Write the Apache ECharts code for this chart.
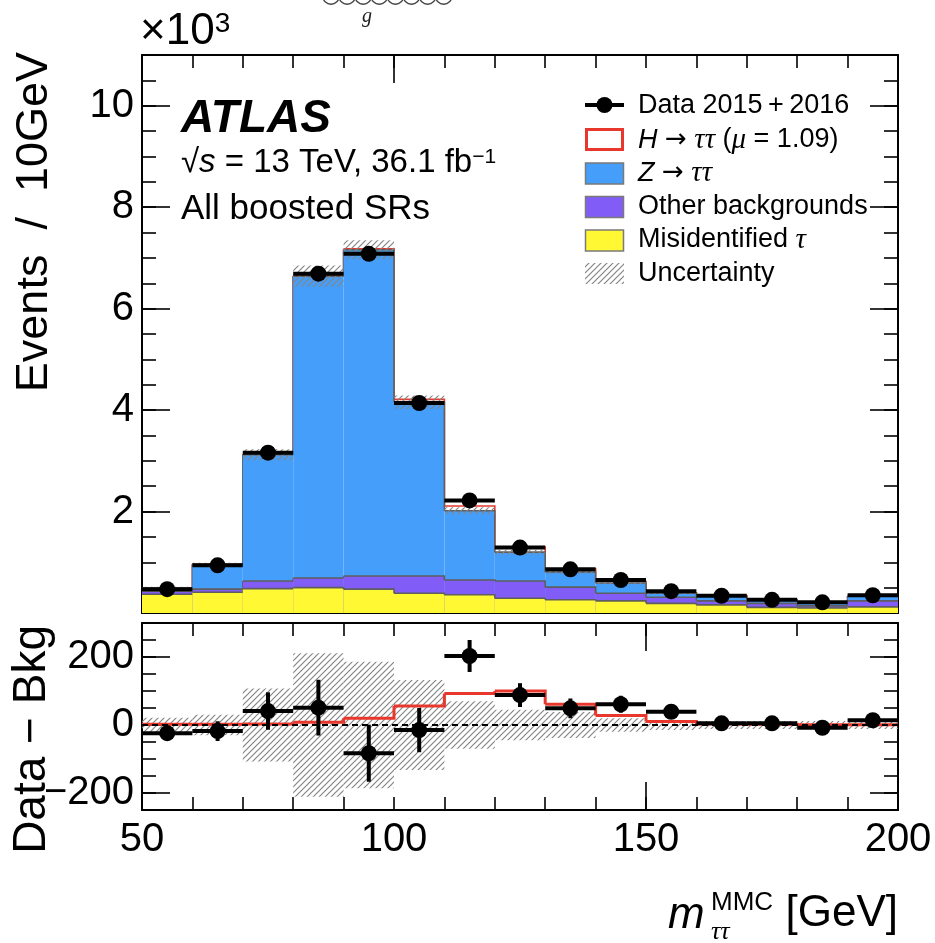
<!DOCTYPE html>
<html>
<head>
<meta charset="utf-8">
<script src="https://cdn.jsdelivr.net/npm/echarts@6/dist/echarts.min.js"></script>
<style>
html, body { margin: 0; padding: 0; background: #fff; }
#chart { width: 935px; height: 943px; }
</style>
</head>
<body>
<div id="chart"></div>
<script>
// m_tautau (MMC) distribution, all boosted signal regions, 10 GeV bins
const binLow = [50, 60, 70, 80, 90, 100, 110, 120, 130, 140, 150, 160, 170, 180, 190];
const BIN_W = 10;

// stacked predictions (events / bin)
const fakeTau  = [370, 410, 480, 500, 470, 390, 360, 290, 260, 240, 190, 160, 110, 100, 120];
const otherBkg = [60, 60, 150, 190, 260, 340, 290, 340, 250, 150, 120, 80, 80, 40, 120];
const zTauTau  = [65, 490, 2490, 5950, 6430, 3425, 1365, 570, 300, 200, 80, 95, 65, 80, 95];
const higgs    = [2, 2, 3, 8, 20, 56, 93, 100, 61, 28, 10, 3, 2, 1, 1];
const bkgUnc   = [21, 30, 107, 211, 186, 132, 70, 45, 38, 20, 15, 12, 12, 12, 12];

// observed data
const dataCounts   = [470, 940, 3160, 6690, 7080, 4140, 2220, 1290, 860, 650, 430, 340, 260, 210, 350];
const dataErr      = [22, 29, 55, 82, 84, 65, 47, 35, 29, 25, 21, 18, 16, 15, 19];
const dataMinusBkg = [-24, -18, 41, 51, -83, -15, 203, 88, 49, 61, 39, 5, 5, -8, 14];

// axis ticks
const xLabelTicks   = [50, 100, 150, 200];
const topMajorX     = [100];
const bottomMajorX  = [150];
const ratioMajorY   = [-200, 0, 200];

const FONT  = '"Liberation Sans", Arial, Helvetica, sans-serif';
const SERIF = '"Liberation Serif", "DejaVu Serif", serif';
const ARROW = '"DejaVu Sans", sans-serif';
const BLUE = '#459ffa', PURPLE = '#825cf7', YELLOW = '#fff833', RED = '#e8382d', OUTLINE = '#5e5e5e';

function hatchCanvas() {
  const s = 6;
  const c = document.createElement('canvas');
  c.width = s; c.height = s;
  const g = c.getContext('2d');
  g.strokeStyle = '#858585';
  g.lineWidth = 1.2;
  g.beginPath();
  g.moveTo(-1, s + 1); g.lineTo(s + 1, -1);
  g.moveTo(-1, 1); g.lineTo(1, -1);
  g.moveTo(s - 1, s + 1); g.lineTo(s + 1, s - 1);
  g.stroke();
  return c;
}
const HATCH = { image: hatchCanvas(), repeat: 'repeat' };

// cumulative layers, drawn from the top of the stack downwards
const cum1 = fakeTau.slice();
const cum2 = cum1.map((v, i) => v + otherBkg[i]);
const cum3 = cum2.map((v, i) => v + zTauTau[i]);
const cum4 = cum3.map((v, i) => v + higgs[i]);

function layerData(cum) {
  return binLow.map((x, i) => [x, x + BIN_W, 0, cum[i], i + 1 < cum.length ? cum[i + 1] : cum[i]]);
}

function layerRender(fill, stroke, lw) {
  return function (params, api) {
    const x0 = api.value(0), x1 = api.value(1), lo = api.value(2), hi = api.value(3), nx = api.value(4);
    const a = api.coord([x0, lo]), b = api.coord([x1, hi]), n = api.coord([x1, nx]);
    return {
      type: 'group',
      children: [
        { type: 'rect', shape: { x: a[0], y: b[1], width: b[0] - a[0], height: a[1] - b[1] }, style: { fill: fill } },
        { type: 'polyline', shape: { points: [[a[0], b[1]], [b[0], b[1]], [b[0], n[1]]] },
          style: { stroke: stroke, lineWidth: lw, fill: null } }
      ]
    };
  };
}

function bandRender(params, api) {
  const x0 = api.value(0), x1 = api.value(1), lo = api.value(2), hi = api.value(3);
  const a = api.coord([x0, lo]), b = api.coord([x1, hi]);
  return { type: 'rect', shape: { x: a[0], y: b[1], width: b[0] - a[0], height: a[1] - b[1] },
           style: { fill: HATCH } };
}

function stepRender(color, lw) {
  return function (params, api) {
    const x0 = api.value(0), x1 = api.value(1), y = api.value(2), ny = api.value(3);
    const a = api.coord([x0, y]), b = api.coord([x1, y]), n = api.coord([x1, ny]);
    return { type: 'polyline', shape: { points: [a, b, n] }, style: { stroke: color, lineWidth: lw, fill: null } };
  };
}

function pointRender(params, api) {
  const xlo = api.value(0), xhi = api.value(1), y = api.value(2), e = api.value(3);
  const xc = (xlo + xhi) / 2;
  const l = api.coord([xlo, y]), r = api.coord([xhi, y]);
  const t = api.coord([xc, y + e]), bt = api.coord([xc, y - e]), c = api.coord([xc, y]);
  return {
    type: 'group',
    children: [
      { type: 'line', shape: { x1: l[0], y1: l[1], x2: r[0], y2: r[1] }, style: { stroke: '#000', lineWidth: 4 } },
      { type: 'line', shape: { x1: t[0], y1: t[1], x2: bt[0], y2: bt[1] }, style: { stroke: '#000', lineWidth: 4 } },
      { type: 'circle', shape: { cx: c[0], cy: c[1], r: 8 }, style: { fill: '#000' } }
    ]
  };
}

const AX = { color: '#000', width: 2 };
const TK = { color: '#000', width: 1.6 };

function xAxesFor(grid, majors, withLabels) {
  const base = { type: 'value', gridIndex: grid, min: 50, max: 200, splitLine: { show: false } };
  return [
    Object.assign({}, base, { position: 'bottom', interval: 10,
      axisLine: { show: true, onZero: false, lineStyle: AX },
      axisTick: { show: true, inside: true, length: 13, lineStyle: TK }, axisLabel: { show: false } }),
    Object.assign({}, base, { position: 'bottom', interval: 50,
      axisLine: { show: false, onZero: false },
      axisTick: { show: true, inside: true, length: 28, lineStyle: TK, customValues: majors },
      axisLabel: { show: withLabels, customValues: xLabelTicks, color: '#000', fontFamily: FONT, fontSize: 40, margin: 10 } }),
    Object.assign({}, base, { position: 'top', interval: 10,
      axisLine: { show: true, onZero: false, lineStyle: AX },
      axisTick: { show: true, inside: true, length: 13, lineStyle: TK }, axisLabel: { show: false } }),
    Object.assign({}, base, { position: 'top', interval: 50,
      axisLine: { show: false, onZero: false },
      axisTick: { show: true, inside: true, length: 28, lineStyle: TK, customValues: majors }, axisLabel: { show: false } })
  ];
}

const legendRich = {
  i: { fontStyle: 'italic', fontFamily: FONT, fontSize: 27 },
  g: { fontStyle: 'italic', fontFamily: SERIF, fontSize: 29 },
  a: { fontFamily: ARROW, fontSize: 26 }
};

const option = {
  animation: false,
  backgroundColor: '#fff',
  grid: [
    { left: 142, width: 756, top: 55, height: 558 },
    { left: 142, width: 756, top: 623, height: 187 }
  ],
  xAxis: [].concat(xAxesFor(0, topMajorX, false), xAxesFor(1, bottomMajorX, true)),
  yAxis: [
    // upper panel
    { type: 'value', gridIndex: 0, min: 0, max: 11000, interval: 500, position: 'left',
      axisLine: { show: true, onZero: false, lineStyle: AX }, splitLine: { show: false },
      axisTick: { show: true, inside: true, length: 14, lineStyle: TK }, axisLabel: { show: false } },
    { type: 'value', gridIndex: 0, min: 0, max: 11000, interval: 2000, position: 'left',
      axisLine: { show: false, onZero: false }, splitLine: { show: false },
      axisTick: { show: true, inside: true, length: 28, lineStyle: TK },
      axisLabel: { show: true, color: '#000', fontFamily: FONT, fontSize: 40, margin: 8,
        formatter: v => (v > 0 && v <= 10000 ? String(v / 1000) : '') } },
    { type: 'value', gridIndex: 0, min: 0, max: 11000, interval: 500, position: 'right',
      axisLine: { show: true, onZero: false, lineStyle: AX }, splitLine: { show: false },
      axisTick: { show: true, inside: true, length: 14, lineStyle: TK }, axisLabel: { show: false } },
    { type: 'value', gridIndex: 0, min: 0, max: 11000, interval: 2000, position: 'right',
      axisLine: { show: false, onZero: false }, splitLine: { show: false },
      axisTick: { show: true, inside: true, length: 28, lineStyle: TK }, axisLabel: { show: false } },
    // lower panel
    { type: 'value', gridIndex: 1, min: -250, max: 300, interval: 50, position: 'left',
      axisLine: { show: true, onZero: false, lineStyle: AX }, splitLine: { show: false },
      axisTick: { show: true, inside: true, length: 14, lineStyle: TK }, axisLabel: { show: false } },
    { type: 'value', gridIndex: 1, min: -250, max: 300, position: 'left',
      axisLine: { show: false, onZero: false }, splitLine: { show: false },
      axisTick: { show: true, inside: true, length: 28, lineStyle: TK, customValues: ratioMajorY },
      axisLabel: { show: true, customValues: ratioMajorY, color: '#000', fontFamily: FONT, fontSize: 40, margin: 8,
        formatter: v => (v < 0 ? '\u2212' + Math.abs(v) : String(v)) } },
    { type: 'value', gridIndex: 1, min: -250, max: 300, interval: 50, position: 'right',
      axisLine: { show: true, onZero: false, lineStyle: AX }, splitLine: { show: false },
      axisTick: { show: true, inside: true, length: 14, lineStyle: TK }, axisLabel: { show: false } },
    { type: 'value', gridIndex: 1, min: -250, max: 300, position: 'right',
      axisLine: { show: false, onZero: false }, splitLine: { show: false },
      axisTick: { show: true, inside: true, length: 28, lineStyle: TK, customValues: ratioMajorY },
      axisLabel: { show: false } }
  ],
  series: [
    // upper panel: stack
    { type: 'custom', xAxisIndex: 0, yAxisIndex: 0, z: 2, renderItem: layerRender('#fff', RED, 1.6),
      encode: { x: [0, 1], y: [2, 3] }, data: layerData(cum4) },
    { type: 'custom', xAxisIndex: 0, yAxisIndex: 0, z: 3, renderItem: layerRender(BLUE, OUTLINE, 1.6),
      encode: { x: [0, 1], y: [2, 3] }, data: layerData(cum3) },
    { type: 'custom', xAxisIndex: 0, yAxisIndex: 0, z: 4, renderItem: layerRender(PURPLE, OUTLINE, 1.6),
      encode: { x: [0, 1], y: [2, 3] }, data: layerData(cum2) },
    { type: 'custom', xAxisIndex: 0, yAxisIndex: 0, z: 5, renderItem: layerRender(YELLOW, OUTLINE, 1.6),
      encode: { x: [0, 1], y: [2, 3] }, data: layerData(cum1) },
    // upper panel: uncertainty band
    { type: 'custom', xAxisIndex: 0, yAxisIndex: 0, z: 6, renderItem: bandRender,
      encode: { x: [0, 1], y: [2, 3] },
      data: binLow.map((x, i) => [x, x + BIN_W, cum3[i] - bkgUnc[i], cum3[i] + bkgUnc[i]]) },
    // upper panel: data
    { type: 'custom', xAxisIndex: 0, yAxisIndex: 0, z: 8, renderItem: pointRender,
      encode: { x: [0, 1], y: 2 },
      data: binLow.map((x, i) => [x, x + BIN_W, dataCounts[i], dataErr[i]]) },

    // lower panel: uncertainty band
    { type: 'custom', xAxisIndex: 4, yAxisIndex: 4, z: 2, renderItem: bandRender,
      encode: { x: [0, 1], y: [2, 3] },
      data: binLow.map((x, i) => [x, x + BIN_W, -bkgUnc[i], bkgUnc[i]]) },
    // lower panel: signal expectation
    { type: 'custom', xAxisIndex: 4, yAxisIndex: 4, z: 3, renderItem: stepRender(RED, 3),
      encode: { x: [0, 1], y: 2 },
      data: binLow.map((x, i) => [x, x + BIN_W, higgs[i], i + 1 < higgs.length ? higgs[i + 1] : higgs[i]]) },
    // lower panel: zero line
    { type: 'line', xAxisIndex: 4, yAxisIndex: 4, z: 4, symbol: 'none', silent: true,
      lineStyle: { color: '#000', width: 1.8, type: [6, 4] },
      data: [[50, 0], [200, 0]] },
    // lower panel: data minus background
    { type: 'custom', xAxisIndex: 4, yAxisIndex: 4, z: 8, renderItem: pointRender,
      encode: { x: [0, 1], y: 2 },
      data: binLow.map((x, i) => [x, x + BIN_W, dataMinusBkg[i], dataErr[i]]) }
  ],
  graphic: [
    // gluon line peeking in at the top
    ...[0, 1, 2, 3, 4, 5, 6, 7].map(k => ({
      type: 'circle', shape: { cx: 331 + 16.1 * k, cy: -4, r: 8.2 },
      style: { fill: null, stroke: '#444', lineWidth: 1.4 }, silent: true })),
    { type: 'text', x: 367, y: 17, silent: true,
      style: { text: 'g', font: 'italic 20px ' + SERIF, fill: '#222', textAlign: 'center', textVerticalAlign: 'middle' } },

    // axis multiplier
    { type: 'text', x: 140, y: 32,
      style: { text: '\u00d710{s|3}', font: '44px ' + FONT, fill: '#000', textAlign: 'left', textVerticalAlign: 'middle',
        rich: { s: { fontSize: 28, fontFamily: FONT, verticalAlign: 'top' } } } },

    // axis titles
    { type: 'text', x: 35, y: 52, rotation: Math.PI / 2,
      style: { text: 'Events  /  10GeV', font: '45px ' + FONT, fill: '#000', textAlign: 'right', textVerticalAlign: 'middle' } },
    { type: 'text', x: 32, y: 625, rotation: Math.PI / 2,
      style: { text: 'Data \u2212 Bkg', font: '46px ' + FONT, fill: '#000', textAlign: 'right', textVerticalAlign: 'middle' } },
    { type: 'text', x: 668, y: 916,
      style: { text: 'm', font: 'italic 44px ' + FONT, fill: '#000', textAlign: 'left', textVerticalAlign: 'middle' } },
    { type: 'text', x: 711, y: 903,
      style: { text: 'MMC', font: '26px ' + FONT, fill: '#000', textAlign: 'left', textVerticalAlign: 'middle' } },
    { type: 'text', x: 711, y: 932,
      style: { text: '\u03c4\u03c4', font: 'italic 26px ' + SERIF, fill: '#000', textAlign: 'left', textVerticalAlign: 'middle' } },
    { type: 'text', x: 898, y: 914,
      style: { text: '[GeV]', font: '44px ' + FONT, fill: '#000', textAlign: 'right', textVerticalAlign: 'middle' } },

    // labels
    { type: 'text', x: 181, y: 119,
      style: { text: 'ATLAS', font: 'italic bold 46px ' + FONT, fill: '#000', textAlign: 'left', textVerticalAlign: 'middle' } },
    { type: 'text', x: 181, y: 163,
      style: { text: '\u221a{i|s} = 13 TeV, 36.1 fb{s|\u22121}', font: '33px ' + FONT, fill: '#000',
        textAlign: 'left', textVerticalAlign: 'middle',
        rich: { i: { fontStyle: 'italic', fontFamily: FONT, fontSize: 33 }, s: { fontSize: 21, fontFamily: FONT, verticalAlign: 'top' } } } },
    { type: 'text', x: 181, y: 209,
      style: { text: 'All boosted SRs', font: '35px ' + FONT, fill: '#000', textAlign: 'left', textVerticalAlign: 'middle' } },

    // legend
    { type: 'line', shape: { x1: 585, y1: 105, x2: 624, y2: 105 }, style: { stroke: '#000', lineWidth: 4 } },
    { type: 'circle', shape: { cx: 604.5, cy: 105, r: 8 }, style: { fill: '#000' } },
    { type: 'rect', shape: { x: 586.5, y: 129.5, width: 36, height: 20 }, style: { fill: '#fff', stroke: RED, lineWidth: 3 } },
    { type: 'rect', shape: { x: 585.5, y: 163, width: 38, height: 21 }, style: { fill: BLUE, stroke: '#7a7a7a', lineWidth: 1.5 } },
    { type: 'rect', shape: { x: 585.5, y: 196.5, width: 38, height: 21 }, style: { fill: PURPLE, stroke: '#7a7a7a', lineWidth: 1.5 } },
    { type: 'rect', shape: { x: 585.5, y: 230, width: 38, height: 21 }, style: { fill: YELLOW, stroke: '#7a7a7a', lineWidth: 1.5 } },
    { type: 'rect', shape: { x: 585, y: 263, width: 39, height: 21 }, style: { fill: HATCH } },
    { type: 'text', x: 638, y: 106,
      style: { text: 'Data 2015\u2009+\u20092016', font: '27px ' + FONT, fill: '#000', textAlign: 'left', textVerticalAlign: 'middle' } },
    { type: 'text', x: 638, y: 140,
      style: { text: '{i|H} {a|\u2192} {g|\u03c4\u03c4} ({g|\u03bc} = 1.09)', font: '27px ' + FONT, fill: '#000',
        textAlign: 'left', textVerticalAlign: 'middle', rich: legendRich } },
    { type: 'text', x: 638, y: 173,
      style: { text: '{i|Z} {a|\u2192} {g|\u03c4\u03c4}', font: '27px ' + FONT, fill: '#000',
        textAlign: 'left', textVerticalAlign: 'middle', rich: legendRich } },
    { type: 'text', x: 638, y: 207,
      style: { text: 'Other backgrounds', font: '27px ' + FONT, fill: '#000', textAlign: 'left', textVerticalAlign: 'middle' } },
    { type: 'text', x: 638, y: 240,
      style: { text: 'Misidentified {g|\u03c4}', font: '27px ' + FONT, fill: '#000', textAlign: 'left', textVerticalAlign: 'middle',
        rich: legendRich } },
    { type: 'text', x: 638, y: 274,
      style: { text: 'Uncertainty', font: '27px ' + FONT, fill: '#000', textAlign: 'left', textVerticalAlign: 'middle' } }
  ]
};

const chart = echarts.init(document.getElementById('chart'), null, { renderer: 'canvas', width: 935, height: 943 });
chart.setOption(option);
</script>
</body>
</html>
